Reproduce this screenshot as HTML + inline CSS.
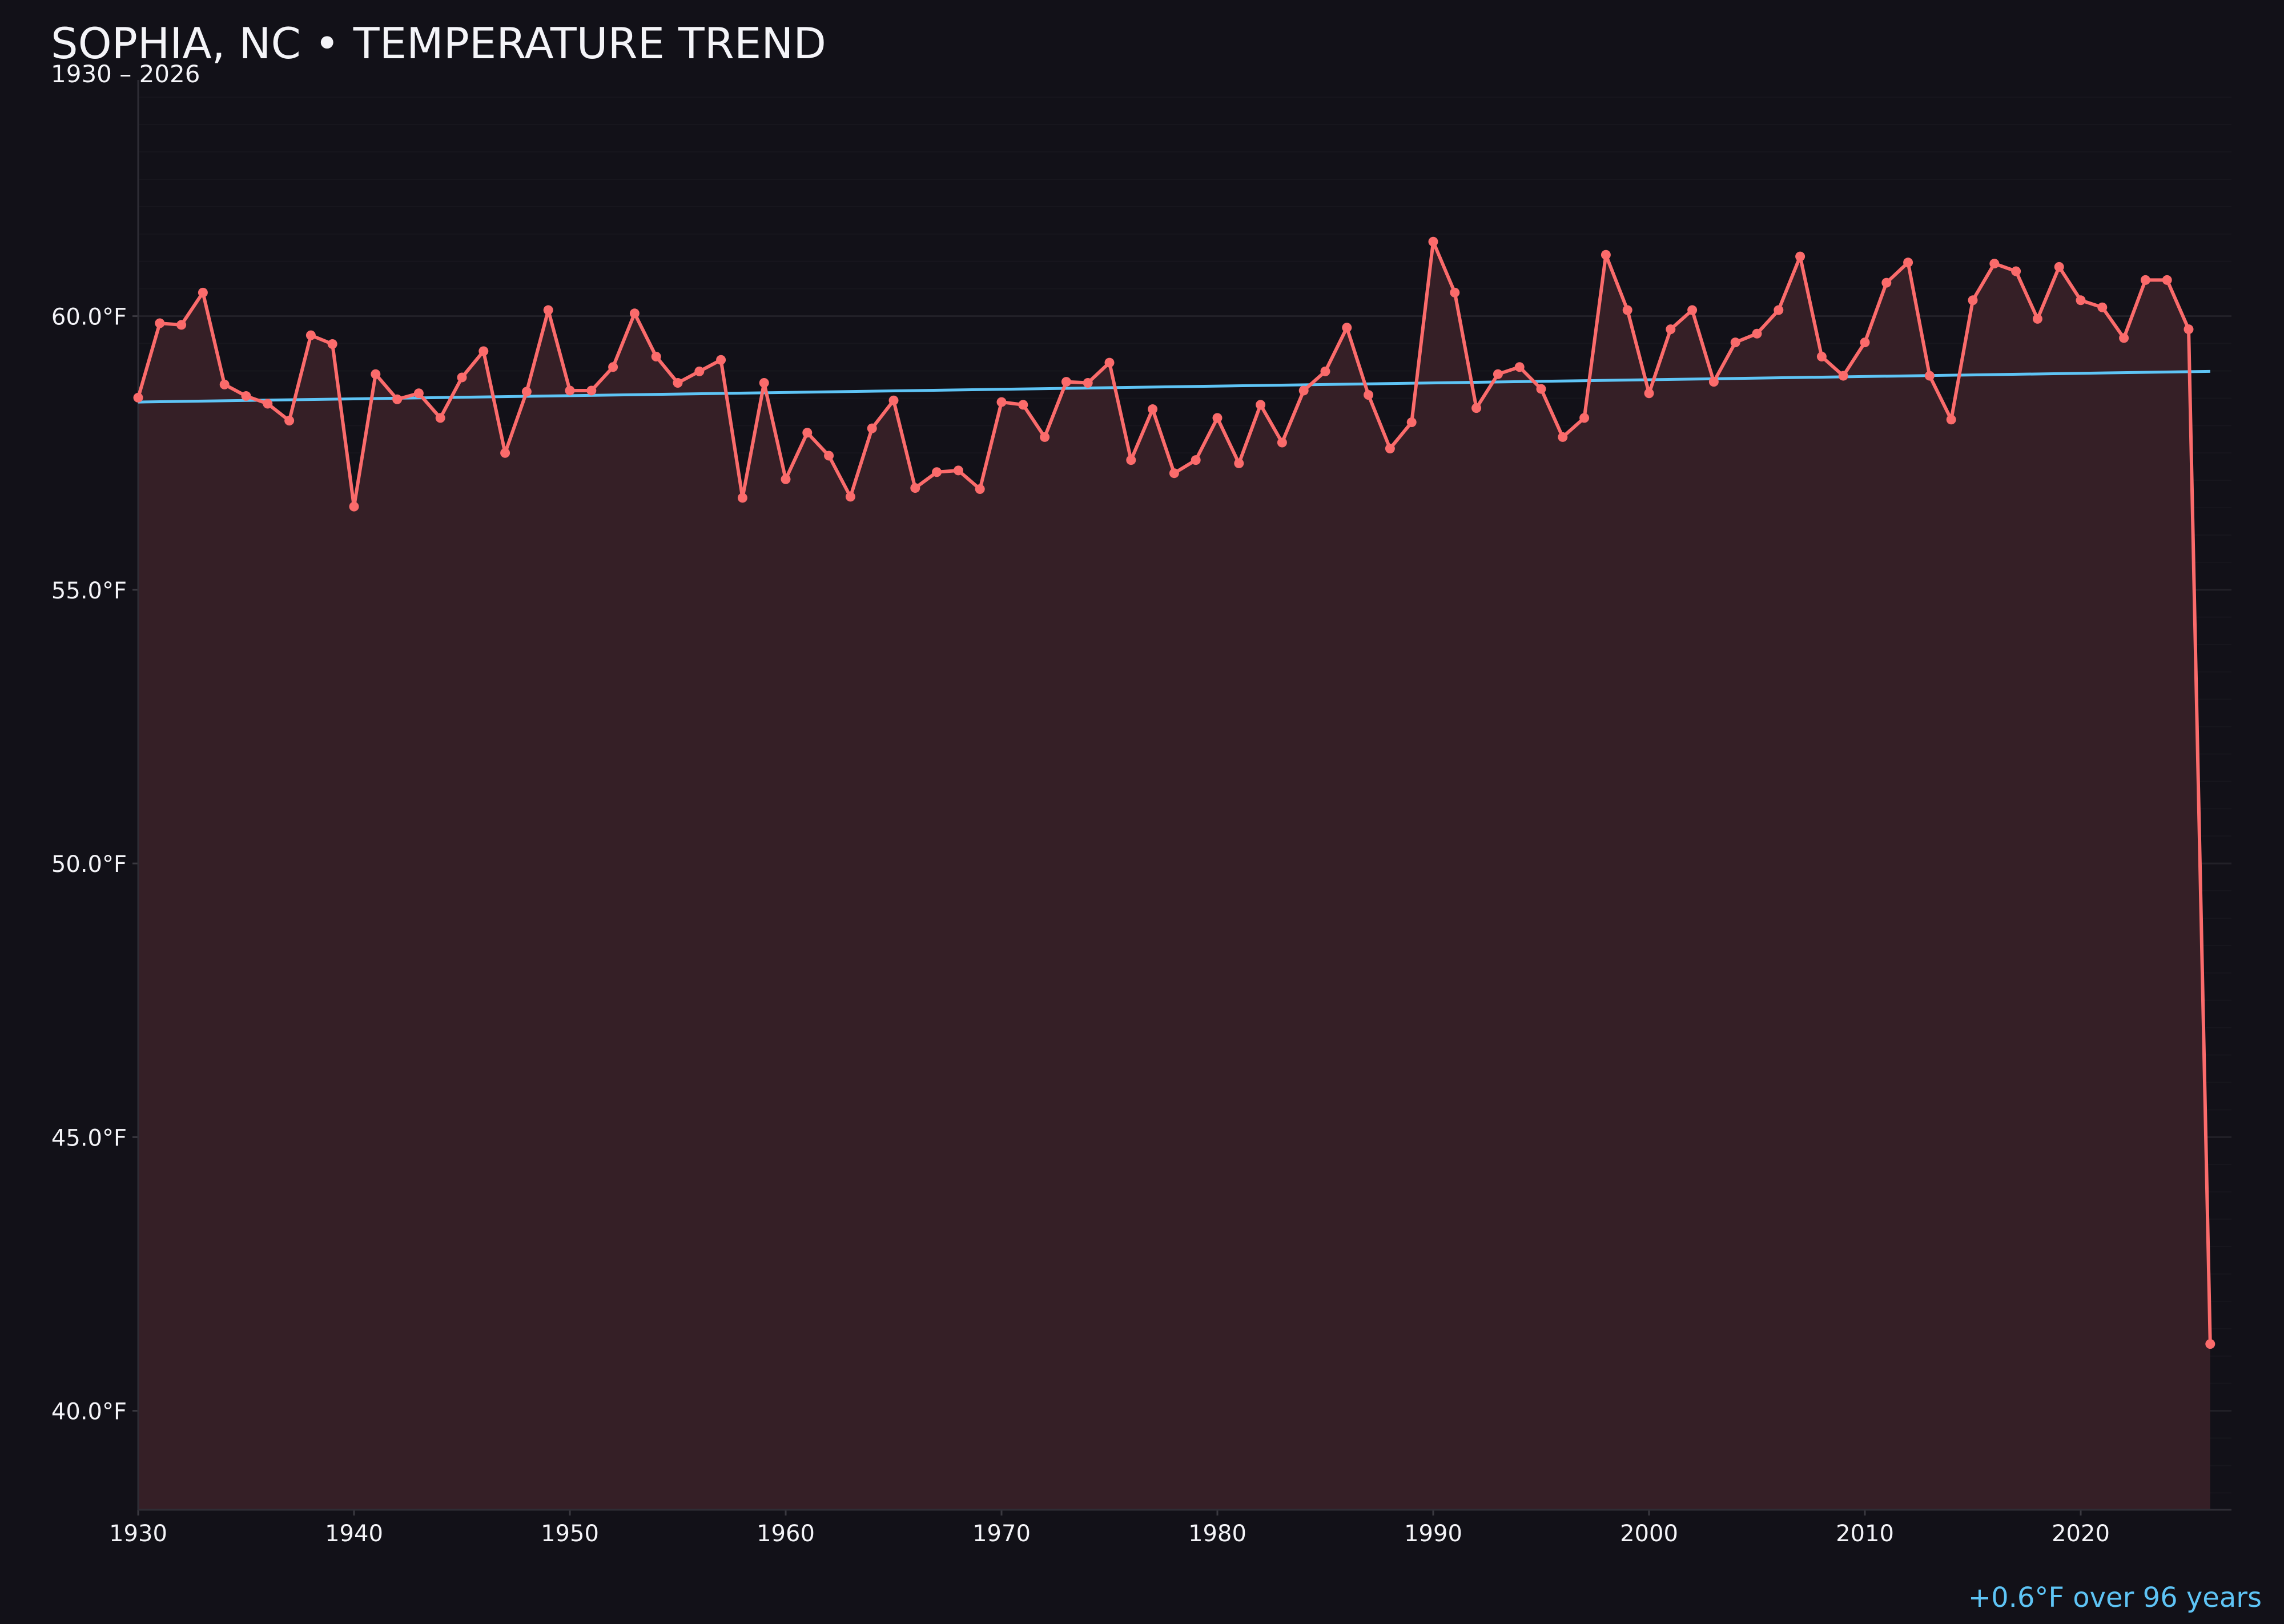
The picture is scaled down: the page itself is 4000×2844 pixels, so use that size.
<!DOCTYPE html>
<html><head><meta charset="utf-8"><style>
html,body{margin:0;padding:0;background:#121118;}
svg{display:block;font-family:"DejaVu Sans","Liberation Sans",sans-serif;}
</style></head><body>
<svg id="chart" width="4000" height="2844" viewBox="0 0 4000 2844" xmlns="http://www.w3.org/2000/svg">
<rect width="4000" height="2844" fill="#121118"/>
<g id="grid"></g>
<g id="area"></g>
<g id="axes"></g>
<g id="marks"></g>
<text x="89" y="102" font-size="75" fill="#f4f4f8">SOPHIA, NC • TEMPERATURE TREND</text>
<text x="89" y="144" font-size="42" fill="#f4f4f8">1930 – 2026</text>
<text x="3961" y="2814" font-size="48" fill="#5ec4f5" text-anchor="end">+0.6°F over 96 years</text>
</svg>
<script>
const years = [];
for (let y = 1930; y <= 2026; y++) years.push(y);
const temps = [58.51,59.87,59.84,60.43,58.75,58.54,58.40,58.09,59.65,59.49,
56.52,58.94,58.48,58.59,58.14,58.88,59.36,57.50,58.62,60.11,
58.64,58.64,59.07,60.05,59.26,58.78,58.99,59.20,56.68,58.78,
57.02,57.87,57.45,56.70,57.95,58.46,56.86,57.15,57.18,56.84,
58.43,58.38,57.79,58.80,58.78,59.15,57.37,58.30,57.13,57.37,
58.14,57.31,58.38,57.69,58.64,58.99,59.79,58.56,57.58,58.06,
61.36,60.43,58.32,58.94,59.07,58.67,57.79,58.14,61.12,60.11,
58.59,59.76,60.11,58.80,59.52,59.68,60.11,61.09,59.26,58.91,
59.52,60.61,60.98,58.91,58.11,60.29,60.96,60.82,59.95,60.90,
60.29,60.16,59.60,60.66,60.66,59.76,41.22];
const trendStart = [1930, 58.43];
const trendEnd = [2026, 58.99];
const yTicks = [40, 45, 50, 55, 60];
const xTicks = [1930,1940,1950,1960,1970,1980,1990,2000,2010,2020];

const L=242, R=3908, T=140, B=2644;
const x = v => 242 + (v-1930)*37.8;
const y = v => 553.6 + (60-v)*95.85;
const NS='http://www.w3.org/2000/svg';
function mk(tag, parent, attrs){const e=document.createElementNS(NS,tag);for(const k in attrs)e.setAttribute(k,attrs[k]);document.getElementById(parent).appendChild(e);return e;}

for (let v=38.5; v<=64; v+=0.5){
  if (v%5===0) continue;
  const g=mk('line','grid',{x1:L,x2:R,y1:y(v),y2:y(v),stroke:'#ffffff','stroke-opacity':0.025,'stroke-width':2});
  
  
}
yTicks.forEach(v=>{
  const g=mk('line','grid',{x1:L,x2:R,y1:y(v),y2:y(v),stroke:'#ffffff','stroke-opacity':0.07,'stroke-width':3});
  
  
  const t=mk('line','axes',{x1:L-10,x2:L,y1:y(v),y2:y(v),stroke:'#3a3940','stroke-width':3});
  
  
  const lb=mk('text','axes',{x:L-20,y:y(v)+15,'font-size':40,fill:'#f4f4f8','text-anchor':'end'});
  lb.textContent=v.toFixed(1)+'°F';
  
  
});
xTicks.forEach(v=>{
  const t=mk('line','axes',{x1:x(v),x2:x(v),y1:B,y2:B+10,stroke:'#3a3940','stroke-width':3});
  
  
  const lb=mk('text','axes',{x:x(v),y:2699,'font-size':40,fill:'#f4f4f8','text-anchor':'middle'});
  lb.textContent=v;
  
  
});
const ya=mk('line','axes',{x1:L,x2:L,y1:T,y2:B,stroke:'#2e2d35','stroke-width':3});


const xa=mk('line','axes',{x1:L,x2:R,y1:B,y2:B,stroke:'#2e2d35','stroke-width':3});



let pts=years.map((yr,i)=>x(yr)+','+y(temps[i]));
const area=mk('polygon','area',{points:x(years[0])+','+B+' '+pts.join(' ')+' '+x(years[years.length-1])+','+B,fill:'#351f26'});


const tr=mk('line','marks',{x1:x(trendStart[0]),y1:y(trendStart[1]),x2:x(trendEnd[0]),y2:y(trendEnd[1]),stroke:'#5ec4f5','stroke-width':5});


const ln=mk('polyline','marks',{points:pts.join(' '),fill:'none',stroke:'#fb6b6b','stroke-width':6,'stroke-linejoin':'round'});


years.forEach((yr,i)=>{
  const c=mk('circle','marks',{cx:x(yr),cy:y(temps[i]),r:8.5,fill:'#fb6b6b'});
  
  
});
</script>
</body></html>
